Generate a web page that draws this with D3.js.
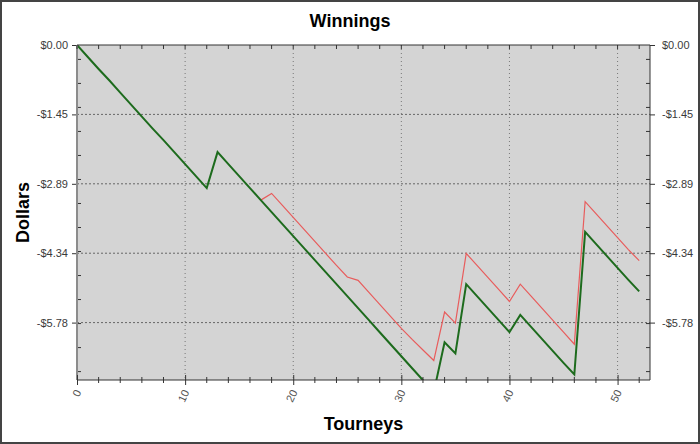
<!DOCTYPE html>
<html>
<head>
<meta charset="utf-8">
<script src="https://cdn.jsdelivr.net/npm/d3@7"></script>
<style>
  body { margin: 0; background: #fff; }
  svg { display: block; font-family: Arial, "Liberation Sans", sans-serif; }
</style>
</head>
<body>
<svg width="700" height="444"></svg>
<script>
// the canvas size
const width = 700
const height = 444

// tourney number for each point
const tourneys = d3.range(0, 53)
// running total (green, thick)
const winnings = [0, -0.25, -0.50, -0.74, -0.99, -1.24, -1.49, -1.74, -1.98, -2.23,
  -2.48, -2.73, -2.98, -2.23, -2.48, -2.73, -2.98, -3.23, -3.48, -3.73,
  -3.98, -4.23, -4.48, -4.73, -4.98, -5.23, -5.48, -5.73, -5.98, -6.23,
  -6.48, -6.73, -6.98, -7.23, -6.19, -6.42, -4.98, -5.23, -5.48, -5.73,
  -5.98, -5.62, -5.87, -6.12, -6.37, -6.62, -6.86, -3.89, -4.14, -4.39,
  -4.64, -4.89, -5.13]
// second series (red, thin) starts at tourney 17
const redStart = 17
const redValues = [-3.23, -3.09, -3.34, -3.59, -3.84, -4.09, -4.34, -4.59, -4.83, -4.90,
  -5.15, -5.40, -5.65, -5.90, -6.13, -6.35, -6.57, -5.56, -5.79, -4.34,
  -4.59, -4.84, -5.09, -5.34, -4.98, -5.23, -5.48, -5.73, -5.98, -6.23,
  -3.26, -3.51, -3.76, -4.01, -4.26, -4.49]

// axis ticks
const yTicks = [0, -1.445, -2.89, -4.335, -5.78]
const yTickLabels = ["$0.00", "-$1.45", "-$2.89", "-$4.34", "-$5.78"]
const yMinor = [-0.3, -0.8, -1.3, -1.8, -2.3, -2.8, -3.3, -3.8, -4.3, -4.8, -5.3, -5.8, -6.3, -6.8]
const xTicks = [0, 10, 20, 30, 40, 50]
const xMinor = [2, 4, 6, 8, 12, 14, 16, 18, 22, 24, 26, 28, 32, 34, 36, 38, 42, 44, 46, 48, 52]

// plot box
const pLeft = 77, pRight = 650, pTop = 45, pBottom = 380

var svg = d3.select('svg')

var x = d3.scaleLinear().domain([0, 53]).range([pLeft, pRight])
var y = d3.scaleLinear().domain([-6.975, 0]).range([pBottom, pTop])

// outer frame
svg.append('rect')
  .attr('x', 1).attr('y', 1).attr('width', width - 2).attr('height', height - 2)
  .style('fill', '#fff').style('stroke', '#444').style('stroke-width', 2)

// plot background
svg.append('rect')
  .attr('x', pLeft).attr('y', pTop).attr('width', pRight - pLeft).attr('height', pBottom - pTop)
  .style('fill', '#d4d4d4')

// grid lines
svg.append('g').selectAll('line')
  .data(xTicks.filter(d => d > 0))
  .enter().append('line')
  .attr('x1', d => x(d)).attr('x2', d => x(d))
  .attr('y1', pTop).attr('y2', pBottom)
  .style('stroke', '#777').style('stroke-dasharray', '1,3')

svg.append('g').selectAll('line')
  .data(yTicks.filter(d => d < 0))
  .enter().append('line')
  .attr('x1', pLeft).attr('x2', pRight)
  .attr('y1', d => y(d)).attr('y2', d => y(d))
  .style('stroke', '#666').style('stroke-dasharray', '2,2')

// lines, clipped to the plot
svg.append('clipPath').attr('id', 'clip')
  .append('rect')
  .attr('x', pLeft).attr('y', pTop).attr('width', pRight - pLeft).attr('height', pBottom - pTop)

var line = d3.line().x(d => x(d[0])).y(d => y(d[1]))

var greenData = tourneys.map((t, i) => [t, winnings[i]])
var redData = redValues.map((v, i) => [redStart + i, v])

var lines = svg.append('g').attr('clip-path', 'url(#clip)')
lines.append('path')
  .datum(redData)
  .attr('d', line)
  .style('fill', 'none').style('stroke', '#e85c5c').style('stroke-width', 1.2)
lines.append('path')
  .datum(greenData)
  .attr('d', line)
  .style('fill', 'none').style('stroke', '#1d6b1d').style('stroke-width', 2)

// left axis
var yLeft = d3.axisLeft(y).tickValues(yTicks).tickSize(5).tickFormat((d, i) => yTickLabels[i])
var gl = svg.append('g').attr('transform', 'translate(' + pLeft + ',0)').call(yLeft)
gl.select('.domain').remove()
gl.selectAll('.tick line').style('stroke', '#333')
gl.selectAll('.tick text').attr('x', -9).style('font-size', '11px').style('fill', '#3a3a3a')
  .style('font-family', 'Arial, "Liberation Sans", sans-serif')
gl.append('g').selectAll('line').data(yMinor).enter().append('line')
  .attr('x1', 0).attr('x2', 4).attr('y1', d => y(d)).attr('y2', d => y(d))
  .style('stroke', '#333')
svg.append('line')
  .attr('x1', pLeft).attr('x2', pLeft).attr('y1', pTop).attr('y2', pBottom)
  .style('stroke', '#8c8c8c').style('stroke-width', 2)

// right axis
var yRight = d3.axisRight(y).tickValues(yTicks).tickSize(5).tickFormat((d, i) => yTickLabels[i])
var gr = svg.append('g').attr('transform', 'translate(' + pRight + ',0)').call(yRight)
gr.select('.domain').remove()
gr.selectAll('.tick line').style('stroke', '#333')
gr.selectAll('.tick text').attr('x', 12).style('font-size', '11px').style('fill', '#3a3a3a')
  .style('font-family', 'Arial, "Liberation Sans", sans-serif')
gr.append('g').selectAll('line').data(yMinor).enter().append('line')
  .attr('x1', -4).attr('x2', 0).attr('y1', d => y(d)).attr('y2', d => y(d))
  .style('stroke', '#333')
svg.append('line')
  .attr('x1', pRight).attr('x2', pRight).attr('y1', pTop).attr('y2', pBottom)
  .style('stroke', '#333')

// top border with small ticks
svg.append('line')
  .attr('x1', pLeft).attr('x2', pRight).attr('y1', pTop).attr('y2', pTop)
  .style('stroke', '#333')
svg.append('g').selectAll('line').data(xMinor.concat(xTicks)).enter().append('line')
  .attr('x1', d => x(d)).attr('x2', d => x(d)).attr('y1', pTop).attr('y2', pTop + 4)
  .style('stroke', '#333')

// bottom axis
var xAxis = d3.axisBottom(x).tickValues(xTicks).tickSize(5).tickFormat(d3.format('d'))
var gb = svg.append('g').attr('transform', 'translate(0,' + pBottom + ')').call(xAxis)
gb.select('.domain').remove()
gb.selectAll('.tick line').attr('y1', -5).style('stroke', '#333')
gb.selectAll('.tick text')
  .attr('y', 0).attr('dy', 0)
  .attr('text-anchor', 'end')
  .attr('transform', 'translate(4,12) rotate(-65)')
  .style('font-size', '11px').style('fill', '#555')
  .style('font-family', 'Arial, "Liberation Sans", sans-serif')
gb.append('g').selectAll('line').data(xMinor).enter().append('line')
  .attr('x1', d => x(d)).attr('x2', d => x(d)).attr('y1', -3).attr('y2', 3)
  .style('stroke', '#333')
svg.append('line')
  .attr('x1', pLeft).attr('x2', pRight).attr('y1', pBottom).attr('y2', pBottom)
  .style('stroke', '#333')

// titles
svg.append('text')
  .attr('x', 350).attr('y', 27)
  .attr('text-anchor', 'middle')
  .style('font-size', '18px').style('font-weight', 'bold')
  .text('Winnings')

svg.append('text')
  .attr('x', (pLeft + pRight) / 2).attr('y', 430)
  .attr('text-anchor', 'middle')
  .style('font-size', '18px').style('font-weight', 'bold')
  .text('Tourneys')

svg.append('text')
  .attr('transform', 'translate(29,' + ((pTop + pBottom) / 2) + ') rotate(-90)')
  .attr('text-anchor', 'middle')
  .style('font-size', '18px').style('font-weight', 'bold')
  .text('Dollars')
</script>
</body>
</html>
